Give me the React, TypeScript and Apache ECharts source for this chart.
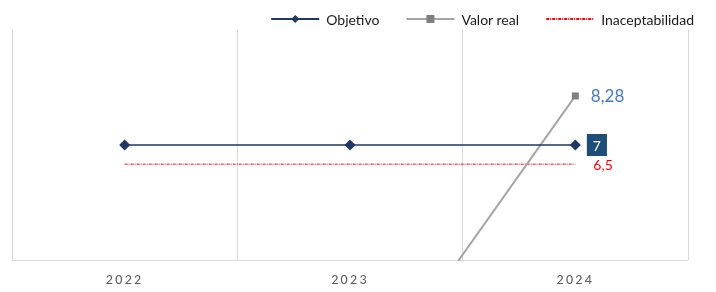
import React, { useEffect, useRef } from "react";
import * as echarts from "echarts";

const categories = ["2022", "2023", "2024"];
const objetivo = [7, 7, 7];
const valorReal: (number | null)[] = [null, 0, 8.28];
const inaceptabilidad = [6.5, 6.5, 6.5];
const yMin = 4;
const yMax = 10;

const fmt = (v: number) => String(v).replace(".", ",");

export default function App() {
  const ref = useRef<HTMLDivElement>(null);
  useEffect(() => {
    if (!ref.current) return;
    const chart = echarts.init(ref.current, undefined, { renderer: "svg" });
    const font = "Lato, 'Open Sans', sans-serif";
    chart.setOption({
      animation: false,
      textStyle: { fontFamily: font },
      legend: {
        top: 7,
        right: 17,
        itemWidth: 48,
        itemHeight: 10,
        itemGap: 26,
        textStyle: { fontSize: 14, color: "#1a1a1a", fontFamily: font, padding: [0, 0, 0, 2] },
        data: ["Objetivo", "Valor real", "Inaceptabilidad"],
      },
      grid: { left: 12, right: 28, top: 30, bottom: 32, containLabel: false },
      xAxis: {
        type: "category",
        data: categories,
        boundaryGap: true,
        axisLine: { lineStyle: { color: "#D9D9D9", width: 1 } },
        axisTick: { show: false },
        splitLine: { show: true, lineStyle: { color: "#D9D9D9", width: 1 } },
        axisLabel: {
          color: "#595959",
          fontSize: 14,
          margin: 12,
          fontFamily: "Carlito, Lato, sans-serif",
        },
      },
      yAxis: {
        type: "value",
        min: yMin,
        max: yMax,
        show: false,
        splitLine: { show: false },
      },
      series: [
        {
          name: "Objetivo",
          type: "line",
          data: objetivo.map((v, i) =>
            i === objetivo.length - 1
              ? {
                  value: v,
                  label: {
                    show: true,
                    position: "right",
                    distance: 6,
                    formatter: (p: any) => fmt(p.value),
                    backgroundColor: "#1F4E79",
                    color: "#fff",
                    fontSize: 14,
                    padding: [4, 6, 4, 6],
                    fontFamily: font,
                  },
                }
              : v
          ),
          symbol: "diamond",
          symbolSize: 11,
          itemStyle: { color: "#1F3864" },
          lineStyle: { color: "#1F3864", width: 1.3 },
          z: 3,
        },
        {
          name: "Valor real",
          type: "line",
          data: valorReal.map((v, i) =>
            i === valorReal.length - 1
              ? {
                  value: v,
                  label: {
                    show: true,
                    position: "right",
                    distance: 12,
                    formatter: (p: any) => fmt(p.value),
                    color: "#4479C4",
                    fontSize: 17,
                    fontFamily: font,
                  },
                }
              : v
          ),
          symbol: "rect",
          symbolSize: 7,
          itemStyle: { color: "#7F7F7F" },
          lineStyle: { color: "#A5A5A5", width: 2 },
          clip: true,
          z: 2,
        },
        {
          name: "Inaceptabilidad",
          type: "line",
          data: inaceptabilidad,
          symbol: "none",
          itemStyle: { color: "#FF0000", opacity: 0 },
          lineStyle: { color: "#FF0000", width: 1, type: [3, 1, 1, 1] },
          endLabel: {
            show: true,
            distance: 18,
            formatter: (p: any) => fmt(p.value),
            color: "#FF0000",
            fontSize: 14,
            fontFamily: font,
          },
          z: 1,
        },
      ],
    });
    return () => chart.dispose();
  }, []);
  return (
    <>
      <style>{`#chartbox text[style*="Carlito"]{letter-spacing:2.3px;}`}</style>
      <div
        id="chartbox"
        ref={ref}
        style={{ position: "fixed", left: 0, top: 0, width: 716, height: 292 }}
      />
    </>
  );
}
